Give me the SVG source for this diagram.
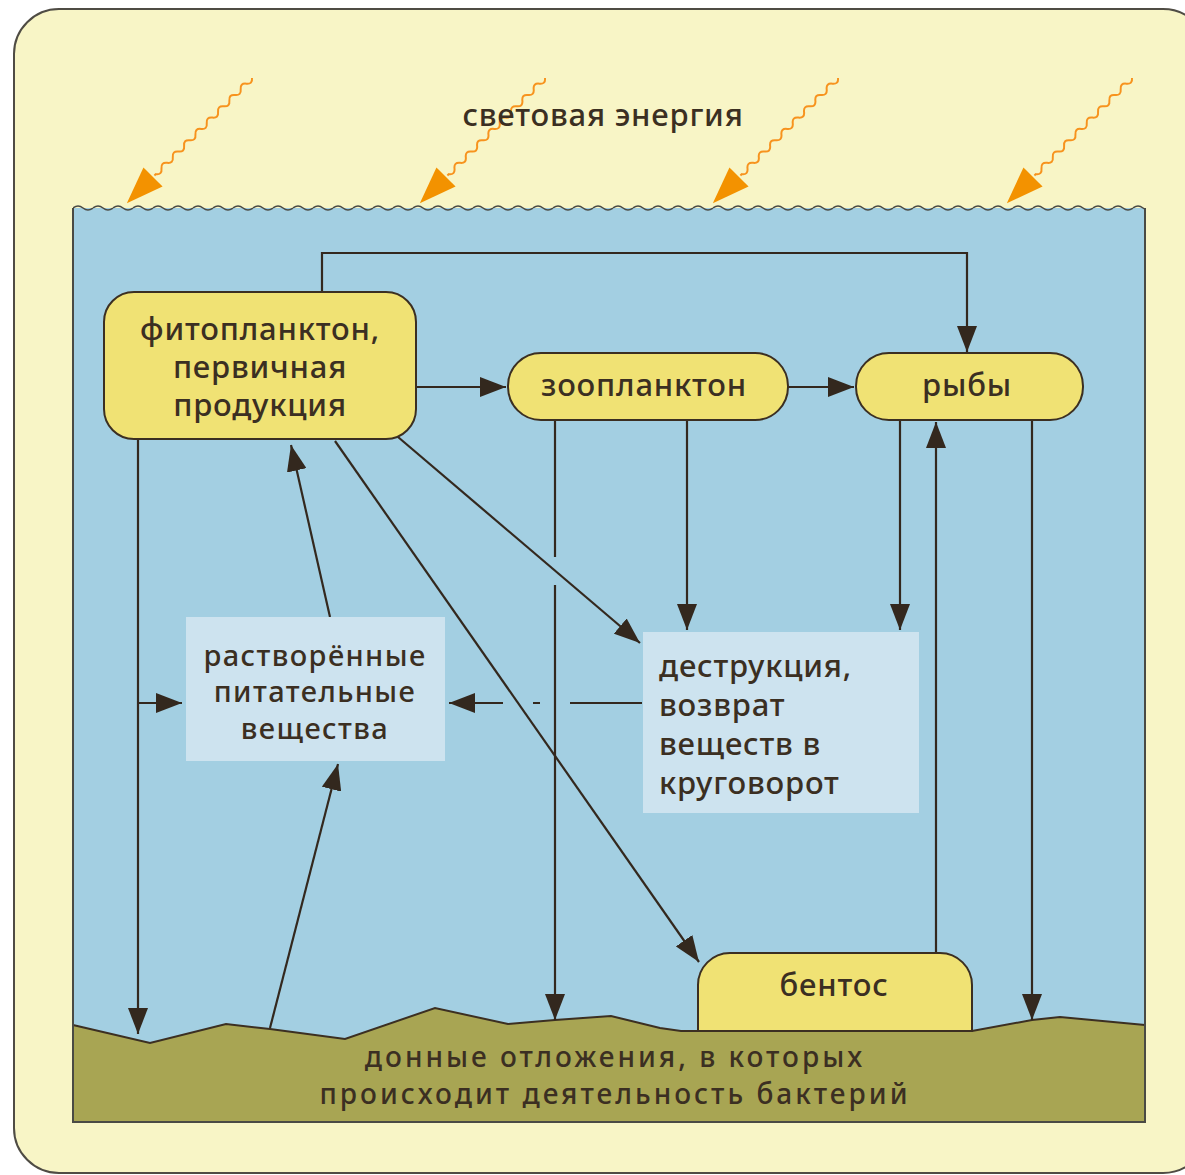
<svg xmlns="http://www.w3.org/2000/svg" width="1185" height="1175" viewBox="0 0 1185 1175">
<style>
text{font-family:"Noto Sans","Open Sans","DejaVu Sans",sans-serif;fill:#3b2f22;font-size:31px;font-weight:500;letter-spacing:0.8px}
.c{text-anchor:middle}
.s{font-size:29px;letter-spacing:1.4px}
.sed{font-size:28px;letter-spacing:3px}
.node{fill:#f0e274;stroke:#3b2f22;stroke-width:2}
.info{fill:#cde3ef}
.ln{fill:none;stroke:#33281e;stroke-width:2.2}
.ar{marker-end:url(#ah)}
</style>
<defs>
<marker id="ah" markerUnits="userSpaceOnUse" markerWidth="27" markerHeight="20" refX="26" refY="10" orient="auto">
<path d="M0,0 L26,10 L0,20 z" fill="#33281e"/>
</marker>
<g id="ray">
<path d="M0,0 q4,-5 8,0 t8,0 t8,0 t8,0 t8,0 t8,0 t8,0 t8,0 t8,0 t8,0 t8,0 t8,0 t8,0 t8,0 t8,0 t8,0 t8,0 l2,0" fill="none" stroke="#f7931e" stroke-width="2"/>
<polygon points="177,0 140,-13.5 140,13.5" fill="#f39200"/>
</g>
<pattern id="wave" patternUnits="userSpaceOnUse" x="73" y="203" width="20" height="10">
<path d="M0,5 q5,-4 10,0 t10,0" fill="none" stroke="#4a4a44" stroke-width="1.6"/>
</pattern>
</defs>
<rect x="14" y="9" width="1194" height="1164" rx="45" fill="#f8f5c6" stroke="#4f4c44" stroke-width="2"/>
<g id="water">
<rect x="73" y="208" width="1072" height="914" fill="#a3cfe2"/>
<polygon points="73,1025 150,1043 226,1024 270,1029 345,1039 435,1008 508,1024 555,1020 611,1016 660,1028 681,1031 972,1031 1032,1020 1060,1017 1145,1025 1145,1122 73,1122" fill="#a8a553"/>
<polyline points="73,1025 150,1043 226,1024 270,1029 345,1039 435,1008 508,1024 555,1020 611,1016 660,1028 681,1031 972,1031 1032,1020 1060,1017 1145,1025" fill="none" stroke="#3b2f22" stroke-width="2"/>
<rect x="73" y="203" width="1072" height="10" fill="url(#wave)"/>
<path d="M73,208 V1122 H1145 V208" fill="none" stroke="#4a4a44" stroke-width="2"/>
</g>
<g id="light">
<use href="#ray" transform="translate(252,78) rotate(135)"/>
<use href="#ray" transform="translate(545,78) rotate(135)"/>
<use href="#ray" transform="translate(838,78) rotate(135)"/>
<use href="#ray" transform="translate(1132,78) rotate(135)"/>
<text class="c" x="603" y="126">световая энергия</text>
</g>
<g id="connectors">
<path class="ln ar" d="M322,292 V253 H967 V352"/>
<path class="ln ar" d="M416,387 H506"/>
<path class="ln ar" d="M788,387 H854"/>
<path class="ln ar" d="M138,440 V1034"/>
<path class="ln ar" d="M138,703 H182"/>
<path class="ln ar" d="M330,617 L291,445"/>
<path class="ln ar" d="M270,1028 L338,764"/>
<path class="ln ar" d="M335,441 L699,962"/>
<path class="ln ar" d="M398,437 L640,643"/>
<path class="ln" d="M555,420 V557"/>
<path class="ln ar" d="M555,585 V1020"/>
<path class="ln ar" d="M687,420 V630"/>
<path class="ln ar" d="M900,420 V630"/>
<path class="ln ar" d="M936,953 V422"/>
<path class="ln ar" d="M1032,420 V1020"/>
<path class="ln" d="M642,703 H570 M540,703 H533"/>
<path class="ln ar" d="M503,703 H449"/>
</g>
<g id="phyto">
<rect class="node" x="104" y="292" width="312" height="147" rx="30"/>
<text class="c" x="260" y="340">фитопланктон,</text>
<text class="c" x="260" y="378">первичная</text>
<text class="c" x="260" y="416">продукция</text>
</g>
<g id="zoo">
<rect class="node" x="508" y="353" width="280" height="67" rx="33"/>
<text class="c" x="644" y="396">зоопланктон</text>
</g>
<g id="fish">
<rect class="node" x="856" y="353" width="227" height="67" rx="33"/>
<text class="c" x="967" y="396">рыбы</text>
</g>
<g id="dissolved">
<rect class="info" x="186" y="617" width="259" height="144"/>
<text class="c s" x="315" y="666">растворённые</text>
<text class="c s" x="315" y="702">питательные</text>
<text class="c s" x="315" y="739">вещества</text>
</g>
<g id="destruction">
<rect class="info" x="643" y="632" width="276" height="181"/>
<text x="659" y="677">деструкция,</text>
<text x="659" y="716">возврат</text>
<text x="659" y="755">веществ в</text>
<text x="659" y="794">круговорот</text>
</g>
<g id="benthos">
<path class="node" d="M698,1031 V985 a32,32 0 0 1 32,-32 H940 a32,32 0 0 1 32,32 V1031 Z"/>
<text class="c" x="834" y="996">бентос</text>
</g>
<g id="sediment">
<text class="c sed" x="615" y="1067">донные отложения, в которых</text>
<text class="c sed" x="615" y="1104">происходит деятельность бактерий</text>
</g>
</svg>
